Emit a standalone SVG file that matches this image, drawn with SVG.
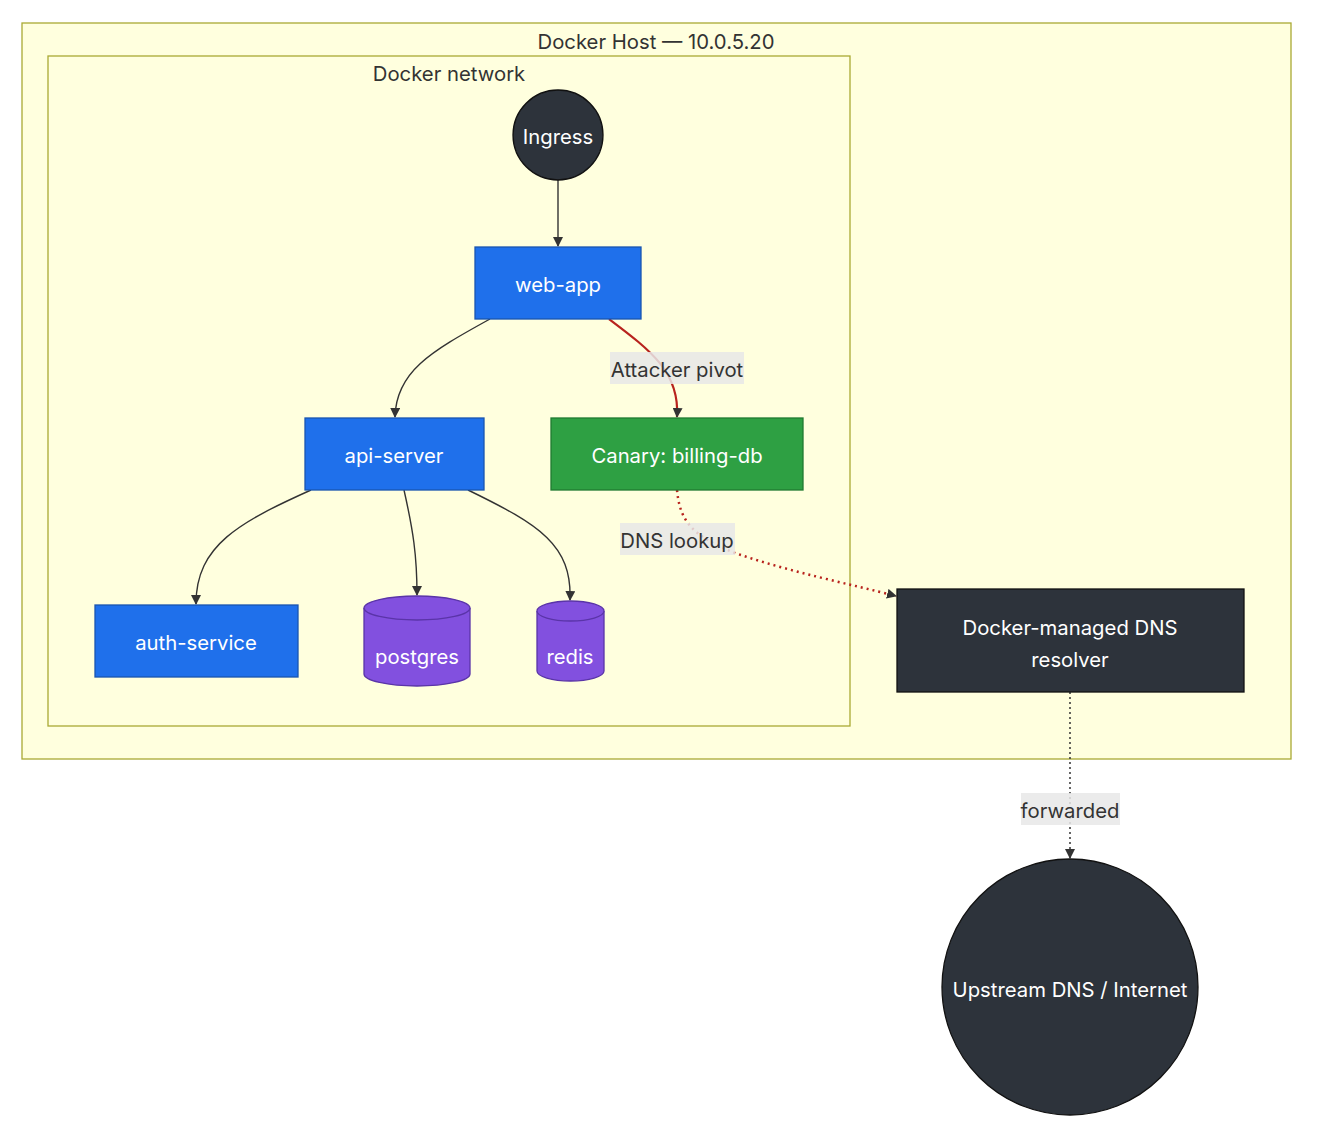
<svg xmlns="http://www.w3.org/2000/svg" width="1318" height="1138" viewBox="0 0 1318 1138">
<defs>
<style>
text{font-family:Inter,"Noto Sans","Liberation Sans",sans-serif;font-size:20.3px;text-anchor:middle;dominant-baseline:central}
.cluster{fill:#ffffde;stroke:#aaaa33;stroke-width:1.3}
.ctitle{fill:#333}
.svc{fill:#1f70eb;stroke:#1a55b0;stroke-width:1.3}
.canary{fill:#2ea043;stroke:#1f7a30;stroke-width:1.3}
.dark{fill:#2d333b;stroke:#111;stroke-width:1.3}
.db{fill:#8250df;stroke:#5a34a8;stroke-width:1.3}
.lt{fill:#fff}
.edge{fill:none;stroke:#333;stroke-width:1.4}
.red{fill:none;stroke:#b8231d;stroke-width:2.2}
.reddot{fill:none;stroke:#b8231d;stroke-width:2.5;stroke-dasharray:2 4}
.dot{fill:none;stroke:#333;stroke-width:1.5;stroke-dasharray:2 3}
.lbg{fill:#e8e8e8;opacity:0.85}
.ltxt{fill:#333}
</style>
<marker id="arr" viewBox="0 0 10 10" refX="9" refY="5" markerWidth="10" markerHeight="10" markerUnits="userSpaceOnUse" orient="auto">
<path d="M0,0 L10,5 L0,10 z" fill="#333"/>
</marker>
</defs>

<g id="cluster-host">
<rect class="cluster" x="22" y="23" width="1269" height="736"/>
<text class="ctitle" x="656" y="41">Docker Host — 10.0.5.20</text>
</g>
<g id="cluster-network">
<rect class="cluster" x="48" y="56" width="802" height="670"/>
<text class="ctitle" x="449" y="73">Docker network</text>
</g>

<g id="edges">
<path class="edge" d="M558,180 L558,246" marker-end="url(#arr)"/>
<path class="edge" d="M490,319 C430,352 396,372 395,417" marker-end="url(#arr)"/>
<path class="red" d="M609,319 C650,350 680,372 677,417" marker-end="url(#arr)"/>
<path class="edge" d="M311,490 C240,522 196,545 196,604" marker-end="url(#arr)"/>
<path class="edge" d="M404,490 C413,530 417,555 417,595" marker-end="url(#arr)"/>
<path class="edge" d="M468,490 C540,525 572,545 570,600" marker-end="url(#arr)"/>
<path class="reddot" d="M677,490 C680,520 690,535 735,553 C790,572 850,584 896,596" marker-end="url(#arr)"/>
<path class="dot" d="M1070,692 L1070,858" marker-end="url(#arr)"/>
<g id="edge-labels">
<rect class="lbg" x="610" y="352" width="134" height="32"/>
<text class="ltxt" x="677" y="369">Attacker pivot</text>
<rect class="lbg" x="620" y="523" width="115" height="32"/>
<text class="ltxt" x="677" y="540">DNS lookup</text>
<rect class="lbg" x="1021" y="793" width="99" height="32"/>
<text class="ltxt" x="1070" y="810">forwarded</text>
</g>
</g>

<g id="node-ingress">
<circle class="dark" cx="558" cy="135" r="45"/>
<text class="lt" x="558" y="136">Ingress</text>
</g>
<g id="node-webapp">
<rect class="svc" x="475" y="247" width="166" height="72"/>
<text class="lt" x="558" y="284">web-app</text>
</g>
<g id="node-api">
<rect class="svc" x="305" y="418" width="179" height="72"/>
<text class="lt" x="394" y="455">api-server</text>
</g>
<g id="node-canary">
<rect class="canary" x="551" y="418" width="252" height="72"/>
<text class="lt" x="677" y="455">Canary: billing-db</text>
</g>
<g id="node-auth">
<rect class="svc" x="95" y="605" width="203" height="72"/>
<text class="lt" x="196" y="642">auth-service</text>
</g>
<g id="node-postgres">
<path class="db" d="M364,608 A53,12 0 0 1 470,608 L470,674 A53,12 0 0 1 364,674 Z"/>
<path class="db" d="M364,608 A53,12 0 0 0 470,608"/>
<text class="lt" x="417" y="656">postgres</text>
</g>
<g id="node-redis">
<path class="db" d="M537,611 A33.5,10 0 0 1 604,611 L604,671 A33.5,10 0 0 1 537,671 Z"/>
<path class="db" d="M537,611 A33.5,10 0 0 0 604,611"/>
<text class="lt" x="570" y="656">redis</text>
</g>
<g id="node-dns">
<rect class="dark" x="897" y="589" width="347" height="103"/>
<text class="lt" x="1070" y="627">Docker-managed DNS</text>
<text class="lt" x="1070" y="659">resolver</text>
</g>
<g id="node-upstream">
<circle class="dark" cx="1070" cy="987" r="128"/>
<text class="lt" x="1070" y="989">Upstream DNS / Internet</text>
</g>
</svg>
